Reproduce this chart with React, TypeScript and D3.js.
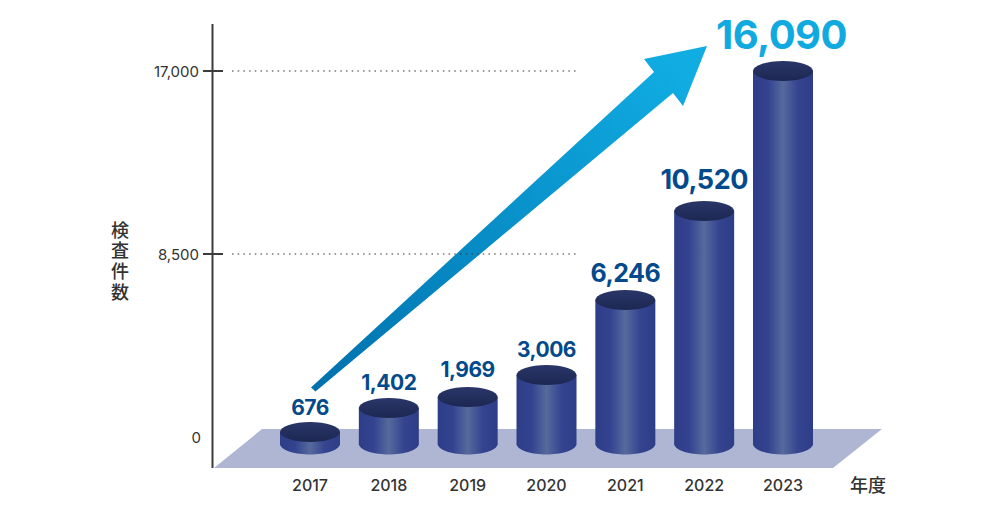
import React from "react";
import * as d3 from "d3";

const years = ["2017", "2018", "2019", "2020", "2021", "2022", "2023"];
const counts = [676, 1402, 1969, 3006, 6246, 10520, 16090];
const axisTicks = [0, 8500, 17000];
const yTitle = "検査件数";
const xTitle = "年度";
const barKnots = [0, 676, 1402, 1969, 3006, 6246, 10520, 16090];
const barKnotY = [444.5, 432, 408, 397, 375, 300, 211, 71];
const labelSizes = [21, 21, 21, 21, 25, 27, 40];
const labelGaps = [17, 18, 20, 18, 18, 22, 22];

const W = 1000, H = 520;
const x = d3.scalePoint<string>().domain(years).range([310, 783]);
const axisY = d3.scaleLinear().domain([0, 17000]).range([437, 71]);
const barY = d3.scaleLinear().domain(barKnots).range(barKnotY);
const base = barY(0);
const RX = 30, RY = 10;
const latin = "Inter, 'Liberation Sans', sans-serif";
const cjk = "'Noto Sans CJK JP', sans-serif";

function bodyPath(cx: number, top: number) {
  const p = d3.path();
  p.moveTo(cx - RX, top);
  p.lineTo(cx - RX, base);
  p.bezierCurveTo(cx - RX + 4, base + 13.3, cx + RX - 4, base + 13.3, cx + RX, base);
  p.lineTo(cx + RX, top);
  p.closePath();
  return p.toString();
}

const floorLine = d3.line()([[214, 468], [262, 429], [882, 429], [833, 468]]) + "Z";
const arrow = d3.line()([
  [311, 387.5], [654, 72], [644, 59], [707, 46], [683, 106], [673, 93], [315.5, 391.5],
]) + "Z";

export default function App() {
  return (
    <svg width={W} height={H} viewBox={`0 0 ${W} ${H}`} style={{ position: "absolute", left: 0, top: 0, background: "#fff" }}>
      <defs>
        <linearGradient id="body" x1="0" x2="1" y1="0" y2="0">
          <stop offset="0" stopColor="#2e3d87" />
          <stop offset="0.25" stopColor="#334390" />
          <stop offset="0.5" stopColor="#566a9c" />
          <stop offset="0.75" stopColor="#34448f" />
          <stop offset="1" stopColor="#2e3d87" />
        </linearGradient>
        <linearGradient id="lid" x1="0" x2="0" y1="0" y2="1">
          <stop offset="0" stopColor="#2a3668" />
          <stop offset="1" stopColor="#1c2752" />
        </linearGradient>
        <linearGradient id="arrowFill" gradientUnits="userSpaceOnUse" x1="311" y1="390" x2="680" y2="70">
          <stop offset="0" stopColor="#0071ad" />
          <stop offset="1" stopColor="#10ace2" />
        </linearGradient>
      </defs>

      <path d={floorLine} fill="#aeb6d4" />

      {years.map((y, i) => {
        const cx = x(y)!;
        const top = barY(counts[i]);
        const isLast = i === years.length - 1;
        return (
          <g key={y}>
            <path d={bodyPath(cx, top)} fill="url(#body)" />
            <ellipse cx={cx} cy={top} rx={RX} ry={RY} fill="url(#lid)" />
            <text x={isLast ? cx - 1.5 : cx} y={top - labelGaps[i]} textAnchor="middle" fontFamily={latin} fontWeight={700}
              fontSize={labelSizes[i]} letterSpacing={-0.5} fill={isLast ? "#10aae0" : "#034a8c"}>
              {d3.format(",")(counts[i])}
            </text>
          </g>
        );
      })}

      <path d={arrow} fill="url(#arrowFill)" />

      <line x1={212.5} x2={212.5} y1={24} y2={468} stroke="#3c3c3c" strokeWidth={2} />
      {axisTicks.filter(t => t > 0).map(t => (
        <g key={t}>
          <line x1={203} x2={223} y1={axisY(t)} y2={axisY(t)} stroke="#3c3c3c" strokeWidth={2} />
          <line x1={232} x2={579} y1={axisY(t)} y2={axisY(t)} stroke="#333" strokeWidth={1} strokeDasharray="1.5 4.2" />
        </g>
      ))}
      {axisTicks.map(t => (
        <text key={t} x={t === 0 ? 201 : 199} y={axisY(t) + 6} textAnchor="end" fontFamily={latin} fontSize={15} fill="#333">
          {d3.format(",")(t)}
        </text>
      ))}

      <text x={120} y={221} fontFamily={cjk} fontSize={18} fontWeight={500} fill="#333"
        style={{ writingMode: "vertical-rl", letterSpacing: "2.6px" }} textAnchor="start">{yTitle}</text>

      {years.map(y => (
        <text key={y} x={x(y)!} y={491} textAnchor="middle" fontFamily={latin} fontWeight={500} fontSize={16} fill="#333">{y}</text>
      ))}
      <text x={868} y={492} textAnchor="middle" fontFamily={cjk} fontWeight={500} fontSize={18} fill="#333">{xTitle}</text>
    </svg>
  );
}
